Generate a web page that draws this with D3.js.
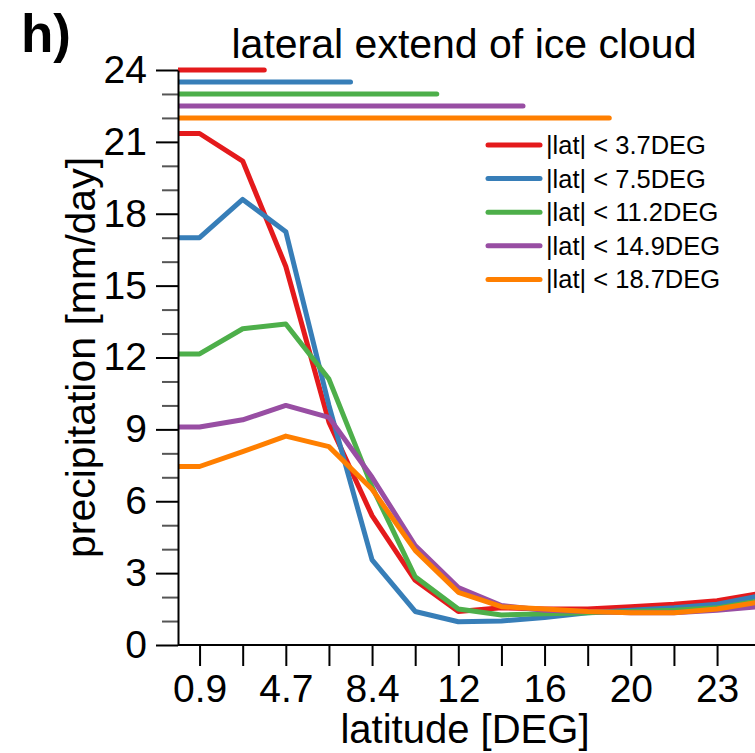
<!DOCTYPE html>
<html><head><meta charset="utf-8">
<script src="https://cdn.jsdelivr.net/npm/d3@7"></script>
<style>
html,body{margin:0;padding:0;background:#fff;}
svg text{font-family:"Liberation Sans",Arial,Helvetica,sans-serif;fill:#000;}
</style></head>
<body>
<svg id="c" width="755" height="753"></svg>
<script>
// ---- data ----
const lats = [-0.9375, 0.9375, 2.8125, 4.6875, 6.5625, 8.4375, 10.3125, 12.1875, 14.0625, 15.9375, 17.8125, 19.6875, 21.5625, 23.4375, 25.3125];
const seriesNames = ["|lat| < 3.7DEG", "|lat| < 7.5DEG", "|lat| < 11.2DEG", "|lat| < 14.9DEG", "|lat| < 18.7DEG"];
const seriesColors = ["#e41a1c", "#377eb8", "#4daf4a", "#984ea3", "#ff7f00"];
const red    = [21.35, 21.35, 20.2, 15.8, 9.3, 5.4, 2.7, 1.4, 1.55, 1.5, 1.5, 1.6, 1.7, 1.85, 2.15];
const blue   = [17.0, 17.0, 18.6, 17.25, 10.0, 3.55, 1.4, 0.97, 1.0, 1.15, 1.35, 1.45, 1.55, 1.7, 2.05];
const green  = [12.15, 12.15, 13.2, 13.4, 11.1, 6.6, 2.85, 1.5, 1.25, 1.3, 1.35, 1.4, 1.45, 1.55, 1.85];
const purple = [9.1, 9.1, 9.4, 10.0, 9.5, 7.0, 4.15, 2.4, 1.65, 1.45, 1.4, 1.35, 1.35, 1.45, 1.6];
const orange = [7.45, 7.45, 8.07, 8.72, 8.28, 6.5, 3.95, 2.2, 1.6, 1.5, 1.4, 1.35, 1.35, 1.5, 1.8];
const extentLat = [3.75, 7.5, 11.25, 15.0, 18.75];     // lateral extent bars
const extentLevel = [24, 23.5, 23, 22.5, 22];
const xTickValues = [0.9375, 2.8125, 4.6875, 6.5625, 8.4375, 10.3125, 12.1875, 14.0625, 15.9375, 17.8125, 19.6875, 21.5625, 23.4375];
const xTickLabels = ["0.9", "", "4.7", "", "8.4", "", "12", "", "16", "", "20", "", "23"];
const yMajor = [0, 3, 6, 9, 12, 15, 18, 21, 24];
const yMinor = [1, 2, 4, 5, 7, 8, 10, 11, 13, 14, 16, 17, 19, 20, 22, 23];

const allSeries = [red, blue, green, purple, orange];

// ---- layout ----
const L = 178, R = 755, T = 70, B = 645;
const svg = d3.select("#c");
const x = d3.scaleLinear().domain([0, 25.1]).range([L, L + 25.1 * 23.0]);
const y = d3.scaleLinear().domain([0, 24]).range([B, T]);

svg.append("defs").append("clipPath").attr("id", "clip")
  .append("rect").attr("x", L).attr("y", 0).attr("width", R - L).attr("height", B + 5);

// lines
const line = d3.line().x((d, i) => x(lats[i])).y(d => y(d));
const g = svg.append("g").attr("clip-path", "url(#clip)");
allSeries.forEach((s, i) => {
  g.append("path").datum(s).attr("d", line)
    .attr("fill", "none").attr("stroke", seriesColors[i])
    .attr("stroke-width", 5).attr("stroke-linejoin", "round").attr("stroke-linecap", "round");
});
// extent bars
extentLat.forEach((e, i) => {
  g.append("line").attr("x1", x(0)).attr("x2", x(e))
    .attr("y1", y(extentLevel[i])).attr("y2", y(extentLevel[i]))
    .attr("stroke", seriesColors[i]).attr("stroke-width", 5).attr("stroke-linecap", "round");
});

// y axis minor
const yMin = svg.append("g").attr("transform", `translate(${L},0)`)
  .call(d3.axisLeft(y).tickValues(yMinor).tickSize(16).tickFormat(""));
yMin.select(".domain").remove();
yMin.selectAll("line").attr("stroke", "#555").attr("stroke-width", 2);

// y axis major
const yAx = svg.append("g").attr("transform", `translate(${L},0)`)
  .call(d3.axisLeft(y).tickValues(yMajor).tickSize(22).tickPadding(9).tickSizeOuter(0));
yAx.select(".domain").attr("stroke", "#000").attr("stroke-width", 2);
yAx.selectAll("line").attr("stroke", "#000").attr("stroke-width", 2);
yAx.selectAll("text").attr("font-size", 39).attr("font-family", "Liberation Sans, Arial, sans-serif");

// x axis
const xAx = svg.append("g").attr("transform", `translate(0,${B})`)
  .call(d3.axisBottom(x).tickValues(xTickValues).tickSize(21).tickPadding(8).tickSizeOuter(0)
    .tickFormat((d, i) => xTickLabels[i]));
xAx.select(".domain").attr("d", `M${L},0H${R}`).attr("stroke", "#000").attr("stroke-width", 2);
xAx.selectAll("line").attr("stroke", "#000").attr("stroke-width", 2);
xAx.selectAll("text").attr("font-size", 39).attr("font-family", "Liberation Sans, Arial, sans-serif");

// titles
svg.append("text").attr("x", 21).attr("y", 52).attr("font-size", 53).attr("font-weight", "bold").text("h)");
svg.append("text").attr("x", 464).attr("y", 58).attr("text-anchor", "middle").attr("font-size", 41)
  .text("lateral extend of ice cloud");
svg.append("text").attr("x", 465).attr("y", 743).attr("text-anchor", "middle").attr("font-size", 40)
  .text("latitude [DEG]");
svg.append("text").attr("transform", `translate(95,${(T + B) / 2}) rotate(-90)`)
  .attr("text-anchor", "middle").attr("font-size", 41).text("precipitation [mm/day]");

// legend
const lg = svg.append("g");
seriesNames.forEach((n, i) => {
  const yy = 145 + i * 33.6;
  lg.append("line").attr("x1", 488).attr("x2", 540).attr("y1", yy).attr("y2", yy)
    .attr("stroke", seriesColors[i]).attr("stroke-width", 5).attr("stroke-linecap", "round");
  lg.append("text").attr("x", 546).attr("y", yy + 9).attr("font-size", 25.5).text(n);
});
</script>
</body></html>
